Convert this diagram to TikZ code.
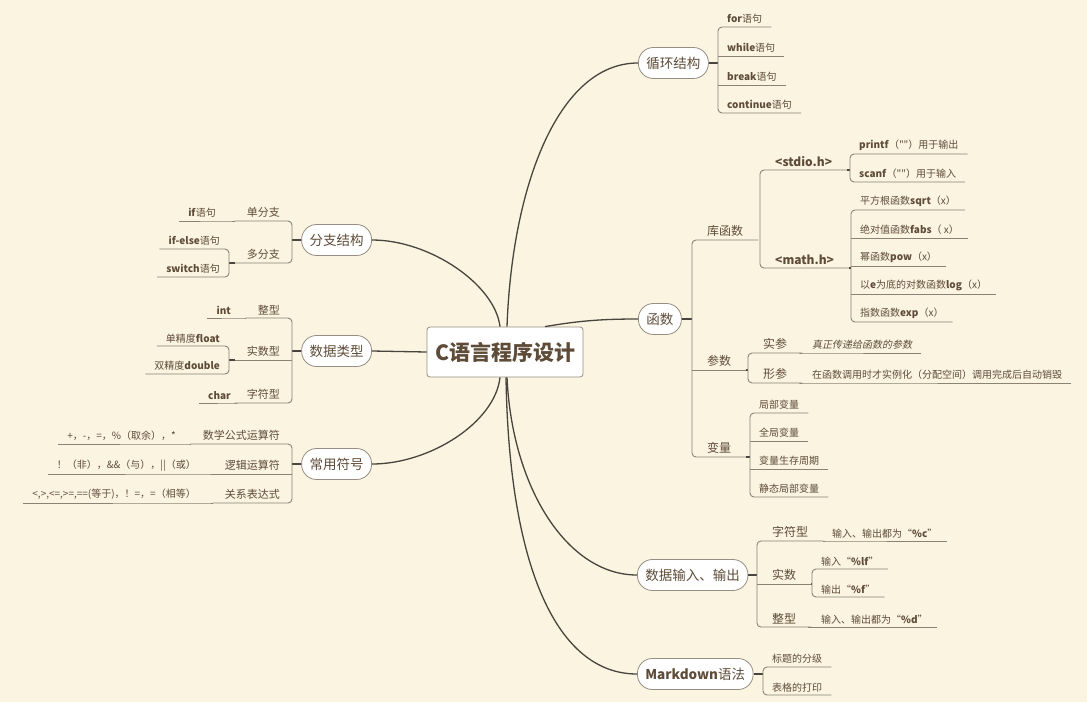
\documentclass[tikz,border=0pt]{standalone}
\usepackage{fontspec}
\setmainfont{Noto Sans CJK SC}[Ligatures=TeXOff]
\newfontfamily\slantcjk{Noto Sans CJK SC}[FakeSlant=0.2]

\definecolor{paper}{RGB}{251,244,224}
\definecolor{ink}{RGB}{94,76,56}
\definecolor{trunk}{RGB}{72,68,62}
\definecolor{twig}{RGB}{140,130,116}
\definecolor{rim}{RGB}{150,142,130}

\begin{document}
\begin{tikzpicture}[x=1pt,y=-1pt,
    root/.style={draw=rim, fill=white, rounded corners=3pt, line width=0.8pt, minimum width=156pt, minimum height=50pt, text=ink, font=\fontsize{21}{24}\selectfont\bfseries},
    pill/.style={draw=rim, fill=white, rounded corners=15pt, line width=0.8pt, minimum height=31pt, inner xsep=8pt, text=ink, font=\fontsize{13.5}{16}\selectfont},
    sub/.style={anchor=south west, inner xsep=15pt, inner ysep=3pt, text=ink, font=\fontsize{12}{14}\selectfont},
    lsub/.style={anchor=south east, inner xsep=12pt, inner ysep=3pt, text=ink, font=\fontsize{11}{13}\selectfont},
    leaf/.style={anchor=south west, inner xsep=9pt, inner ysep=3pt, text=ink, font=\fontsize{10}{12}\selectfont},
    lleaf/.style={anchor=south east, inner xsep=9pt, inner ysep=3pt, text=ink, font=\fontsize{10}{12}\selectfont},
    trunkline/.style={draw=trunk, line width=1.3pt},
    tie/.style={draw=trunk, line width=1.4pt},
    rail/.style={draw=twig, line width=0.9pt, rounded corners=4pt}] %mind map
    \fill[paper] (0,0) rectangle (1087,702);
    \useasboundingbox (0,0) rectangle (1087,702);

    \node[root] (root) at (505,352) {C语言程序设计};

    \node[pill, anchor=west] (loop) at (638,63) {循环结构};
    \node[pill, anchor=west] (func) at (638,319) {函数};
    \node[pill, anchor=west] (io) at (637,575) {数据输入、输出};
    \node[pill, anchor=west] (md) at (637,674) {\textbf{Markdown}语法};
    \node[pill, anchor=east] (branch) at (372,240) {分支结构};
    \node[pill, anchor=east] (dtype) at (372,351) {数据类型};
    \node[pill, anchor=east] (sym) at (372,464) {常用符号};

    \draw[trunkline] ([xshift=2]root.north) .. controls +(5,-140) and +(-80,0) .. (loop.west);
    \draw[trunkline] ([xshift=40]root.north) .. controls +(35,-6) and +(-35,0) .. (func.west);
    \draw[trunkline] ([xshift=2]root.south) .. controls +(5,110) and +(-70,0) .. (io.west);
    \draw[trunkline] ([xshift=1]root.south) .. controls +(3,190) and +(-80,0) .. (md.west);
    \draw[trunkline] ([xshift=-5]root.north) .. controls +(-5,-42) and +(58,0) .. (branch.east);
    \draw[trunkline] (dtype.east) -- (root.west);
    \draw[trunkline] ([xshift=-5]root.south) .. controls +(-5,45) and +(58,0) .. (sym.east);

    % loop
    \node[leaf] (forst) at (718,27) {\textbf{for}语句};
    \node[leaf] (whilest) at (718,56) {\textbf{while}语句};
    \node[leaf] (breakst) at (718,85) {\textbf{break}语句};
    \node[leaf] (contst) at (718,113) {\textbf{continue}语句};
    \draw[tie] (loop.east) -- (forst.south west |- loop.east);
    \draw[rail] (forst.south east) -- (forst.south west) -- (contst.south west) -- (contst.south east);
    \draw[rail] (whilest.south west) -- (whilest.south east) (breakst.south west) -- (breakst.south east);

    % functions
    \node[sub] (kuhs) at (692,240) {库函数};
    \node[sub] (canshu) at (692,370) {参数};
    \node[sub] (bianl) at (692,457) {变量};
    \draw[tie] (func.east) -- (kuhs.south west |- func.east);
    \draw[rail] (kuhs.south east) -- (kuhs.south west) -- (bianl.south west) -- (bianl.south east);
    \draw[rail] (canshu.south west) -- (canshu.south east);

    \node[sub] (stdio) at (760,170) {\textbf{<stdio.h>}};
    \node[sub] (mathh) at (760,268) {\textbf{<math.h>}};
    \draw[rail] (stdio.south east) -- (stdio.south west) -- (mathh.south west) -- (mathh.south east);

    \node[leaf] (printf) at (850,154) {\textbf{printf}（""）用于输出};
    \node[leaf] (scanf) at (850,182) {\textbf{scanf}（""）用于输入};
    \draw[tie] (stdio.south east) -- (printf.south west |- stdio.south east);
    \draw[rail] (printf.south east) -- (printf.south west) -- (scanf.south west) -- (scanf.south east);

    \node[leaf] (sqrtf) at (851,210) {平方根函数\textbf{sqrt}（x）};
    \node[leaf] (fabsf) at (851,238) {绝对值函数\textbf{fabs}（ x）};
    \node[leaf] (powf) at (851,266) {幂函数\textbf{pow}（x）};
    \node[leaf] (logf) at (851,294) {以\textbf{e}为底的对数函数\textbf{log}（x）};
    \node[leaf] (expf) at (851,322) {指数函数\textbf{exp}（x）};
    \draw[tie] (mathh.south east) -- (sqrtf.south west |- mathh.south east);
    \draw[rail] (sqrtf.south east) -- (sqrtf.south west) -- (expf.south west) -- (expf.south east);
    \draw[rail] (fabsf.south west) -- (fabsf.south east) (powf.south west) -- (powf.south east) (logf.south west) -- (logf.south east);

    \node[sub] (shican) at (748,353) {实参};
    \node[sub] (xingcan) at (748,383) {形参};
    \node[leaf, font=\fontsize{10}{12}\selectfont\slantcjk] (shicanx) at (803,353) {真正传递给函数的参数};
    \node[leaf] (xingcanx) at (803,383) {在函数调用时才实例化（分配空间）调用完成后自动销毁};
    \draw[tie] (canshu.south east) -- (shican.south west |- canshu.south east);
    \draw[rail] (shican.south east) -- (shican.south west) -- (xingcan.south west) -- (xingcan.south east);
    \draw[rail] (shican.south east) -- (shicanx.south west) -- (shicanx.south east);
    \draw[rail] (xingcan.south east) -- (xingcanx.south west) -- (xingcanx.south east);

    \node[leaf] (jubu) at (750,413) {局部变量};
    \node[leaf] (quanju) at (750,441) {全局变量};
    \node[leaf] (shengcun) at (750,469) {变量生存周期};
    \node[leaf] (jingtai) at (750,497) {静态局部变量};
    \draw[tie] (bianl.south east) -- (jubu.south west |- bianl.south east);
    \draw[rail] (jubu.south east) -- (jubu.south west) -- (jingtai.south west) -- (jingtai.south east);
    \draw[rail] (quanju.south west) -- (quanju.south east) (shengcun.south west) -- (shengcun.south east);

    % input / output
    \node[sub] (zifuio) at (757,541) {字符型};
    \node[sub] (shishuio) at (757,584) {实数};
    \node[sub] (zhengio) at (757,627) {整型};
    \draw[tie] (io.east) -- (zifuio.south west |- io.east);
    \draw[rail] (zifuio.south east) -- (zifuio.south west) -- (zhengio.south west) -- (zhengio.south east);
    \draw[rail] (shishuio.south west) -- (shishuio.south east);

    \node[leaf] (zifuiox) at (823,541) {输入、输出都为“\textbf{\%c}”};
    \node[leaf] (lfin) at (812,569) {输入“\textbf{\%lf}”};
    \node[leaf] (fout) at (812,597) {输出“\textbf{\%f}”};
    \node[leaf] (zhengiox) at (812,627) {输入、输出都为“\textbf{\%d}”};
    \draw[rail] (zifuio.south east) -- (zifuiox.south west) -- (zifuiox.south east);
    \draw[tie] (shishuio.south east) -- (lfin.south west |- shishuio.south east);
    \draw[rail] (lfin.south east) -- (lfin.south west) -- (fout.south west) -- (fout.south east);
    \draw[rail] (zhengio.south east) -- (zhengiox.south west) -- (zhengiox.south east);

    % markdown
    \node[leaf] (biaoti) at (763,667) {标题的分级};
    \node[leaf] (biaoge) at (763,695) {表格的打印};
    \draw[tie] (md.east) -- (biaoti.south west |- md.east);
    \draw[rail] (biaoti.south east) -- (biaoti.south west) -- (biaoge.south west) -- (biaoge.south east);

    % branches
    \node[lsub] (danfz) at (292,221) {单分支};
    \node[lsub] (duofz) at (292,263) {多分支};
    \node[lleaf] (ifst) at (225,221) {\textbf{if}语句};
    \node[lleaf] (ifelse) at (229,249) {\textbf{if-else}语句};
    \node[lleaf] (switchst) at (229,277) {\textbf{switch}语句};
    \draw[tie] (branch.west) -- (danfz.south east |- branch.west);
    \draw[rail] (danfz.south west) -- (danfz.south east) -- (duofz.south east) -- (duofz.south west);
    \draw[rail] (danfz.south west) -- (ifst.south east) -- (ifst.south west);
    \draw[tie] (duofz.south west) -- (ifelse.south east |- duofz.south west);
    \draw[rail] (ifelse.south west) -- (ifelse.south east) -- (switchst.south east) -- (switchst.south west);

    % data types
    \node[lsub] (zhengx) at (292,318) {整型};
    \node[lsub] (shishux) at (292,360) {实数型};
    \node[lsub] (zifux) at (292,403) {字符型};
    \node[lleaf] (intt) at (240,318) {\textbf{int}};
    \node[lleaf] (floatt) at (229,346) {单精度\textbf{float}};
    \node[lleaf] (doublet) at (229,374) {双精度\textbf{double}};
    \node[lleaf] (chart) at (240,403) {\textbf{char}};
    \draw[tie] (dtype.west) -- (zhengx.south east |- dtype.west);
    \draw[rail] (zhengx.south west) -- (zhengx.south east) -- (zifux.south east) -- (zifux.south west);
    \draw[rail] (shishux.south west) -- (shishux.south east);
    \draw[rail] (zhengx.south west) -- (intt.south east) -- (intt.south west);
    \draw[tie] (shishux.south west) -- (floatt.south east |- shishux.south west);
    \draw[rail] (floatt.south west) -- (floatt.south east) -- (doublet.south east) -- (doublet.south west);
    \draw[rail] (zifux.south west) -- (chart.south east) -- (chart.south west);

    % symbols
    \node[lsub] (shuxue) at (292,444) {数学公式运算符};
    \node[lsub] (luoji) at (292,474) {逻辑运算符};
    \node[lsub] (guanxi) at (292,503) {关系表达式};
    \node[lleaf] (shuxuex) at (185,444) {+，-，=，\%（取余），*};
    \node[lleaf] (luojix) at (205,474) {！（非），\&\&（与），||（或）};
    \node[lleaf] (guanxix) at (205,503) {<,>,<=,>=,==(等于)，！=，=（相等）};
    \draw[tie] (sym.west) -- (shuxue.south east |- sym.west);
    \draw[rail] (shuxue.south west) -- (shuxue.south east) -- (guanxi.south east) -- (guanxi.south west);
    \draw[rail] (luoji.south west) -- (luoji.south east);
    \draw[rail] (shuxue.south west) -- (shuxuex.south east) -- (shuxuex.south west);
    \draw[rail] (luoji.south west) -- (luojix.south east) -- (luojix.south west);
    \draw[rail] (guanxi.south west) -- (guanxix.south east) -- (guanxix.south west);
\end{tikzpicture}
\end{document}
